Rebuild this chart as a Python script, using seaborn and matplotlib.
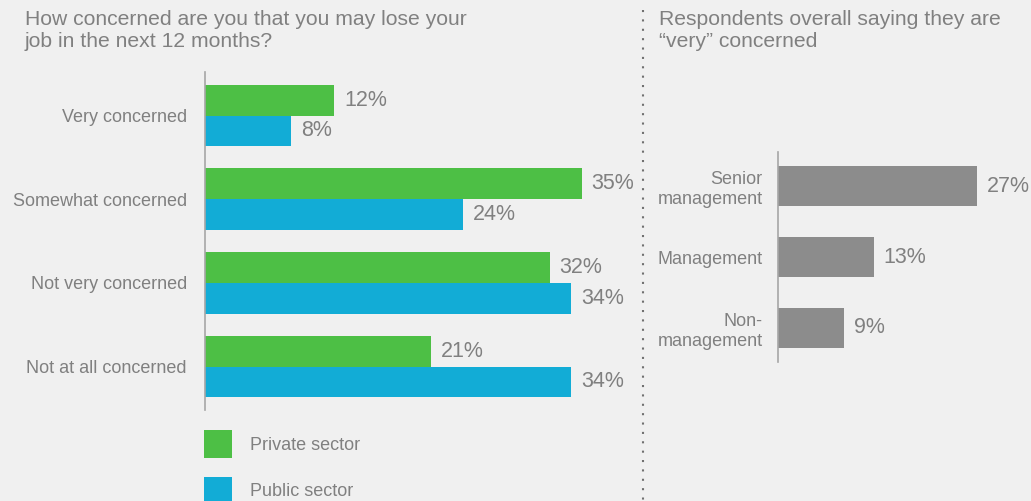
import matplotlib
matplotlib.use("Agg")
import matplotlib.pyplot as plt
from matplotlib.lines import Line2D
import seaborn as sns
import pandas as pd

# Job-loss concern by sector (percent of respondents)
concern_levels = ["Very concerned", "Somewhat concerned", "Not very concerned", "Not at all concerned"]
private_sector = [12, 35, 32, 21]
public_sector = [8, 24, 34, 34]
sector_names = ["Private sector", "Public sector"]

# Share saying they are "very" concerned, by seniority
seniority = ["Senior\nmanagement", "Management", "Non-\nmanagement"]
very_concerned = [27, 13, 9]

left_title = "How concerned are you that you may lose your\njob in the next 12 months?"
right_title = "Respondents overall saying they are\n\u201cvery\u201d concerned"

BG = "#f0f0f0"
TEXT = "#808080"
AXIS = "#a6a6a6"
GREEN = "#4dbf45"
BLUE = "#12acd6"
GREY = "#8c8c8c"

sns.set_theme(style="white")
plt.rcParams["font.family"] = ["Liberation Sans", "DejaVu Sans"]
plt.rcParams["text.color"] = TEXT

df = pd.DataFrame({
    "level": concern_levels * 2,
    "value": private_sector + public_sector,
    "sector": [sector_names[0]] * 4 + [sector_names[1]] * 4,
})
df_right = pd.DataFrame({"group": seniority, "value": very_concerned})

fig = plt.figure(figsize=(10.31, 5.01), dpi=100, facecolor=BG)

# Left panel: grouped horizontal bars
ax1 = fig.add_axes([0.1988, 0.1816, 0.4179, 0.6747])
ax1.set_facecolor(BG)
sns.barplot(data=df, y="level", x="value", hue="sector", orient="h",
            palette=[GREEN, BLUE], width=0.74, saturation=1, linewidth=0,
            order=concern_levels, hue_order=sector_names, ax=ax1)
ax1.set_xlim(0, 40)
ax1.set_ylim(3.52, -0.52)
for cont in ax1.containers:
    ax1.bar_label(cont, labels=[f"{int(v)}%" for v in cont.datavalues],
                  padding=7, fontsize=15.5, color=TEXT)
handles, labels = ax1.get_legend_handles_labels()
ax1.get_legend().remove()
fig.legend(handles, labels, loc="upper left", bbox_to_anchor=(0.1975, 0.142),
           frameon=False, fontsize=13, handlelength=1.55, handleheight=2.0,
           handletextpad=1.0, labelspacing=1.05, borderaxespad=0,
           borderpad=0, labelcolor=TEXT)

# Right panel: seniority bars
ax2 = fig.add_axes([0.7546, 0.2774, 0.2362, 0.4192])
ax2.set_facecolor(BG)
sns.barplot(data=df_right, y="group", x="value", orient="h", color=GREY,
            width=0.56, saturation=1, linewidth=0, order=seniority, ax=ax2)
ax2.set_xlim(0, 33)
ax2.set_ylim(2.48, -0.48)
for cont in ax2.containers:
    ax2.bar_label(cont, labels=[f"{int(v)}%" for v in cont.datavalues],
                  padding=7, fontsize=15.5, color=TEXT)

for ax, pad in ((ax1, 13), (ax2, 11)):
    ax.set_xlabel("")
    ax.set_ylabel("")
    ax.set_xticks([])
    for side in ("top", "right", "bottom"):
        ax.spines[side].set_visible(False)
    ax.spines["left"].set_color(AXIS)
    ax.spines["left"].set_linewidth(1.2)
    ax.tick_params(axis="y", length=0, pad=pad, labelsize=13, labelcolor=TEXT)

# Titles
fig.text(25 / 1031, 1 - 10 / 501, left_title, ha="left", va="top",
         fontsize=15.2, color=TEXT, linespacing=1.18)
fig.text(659 / 1031, 1 - 10 / 501, right_title, ha="left", va="top",
         fontsize=15.2, color=TEXT, linespacing=1.18)

# Dotted divider between panels
fig.add_artist(Line2D([643 / 1031, 643 / 1031], [1 - 10 / 501, 0],
                      transform=fig.transFigure, color="#707070",
                      linewidth=1.5, linestyle=(0, (1, 3.5))))

fig.savefig("out.png", dpi=100, facecolor=BG)
